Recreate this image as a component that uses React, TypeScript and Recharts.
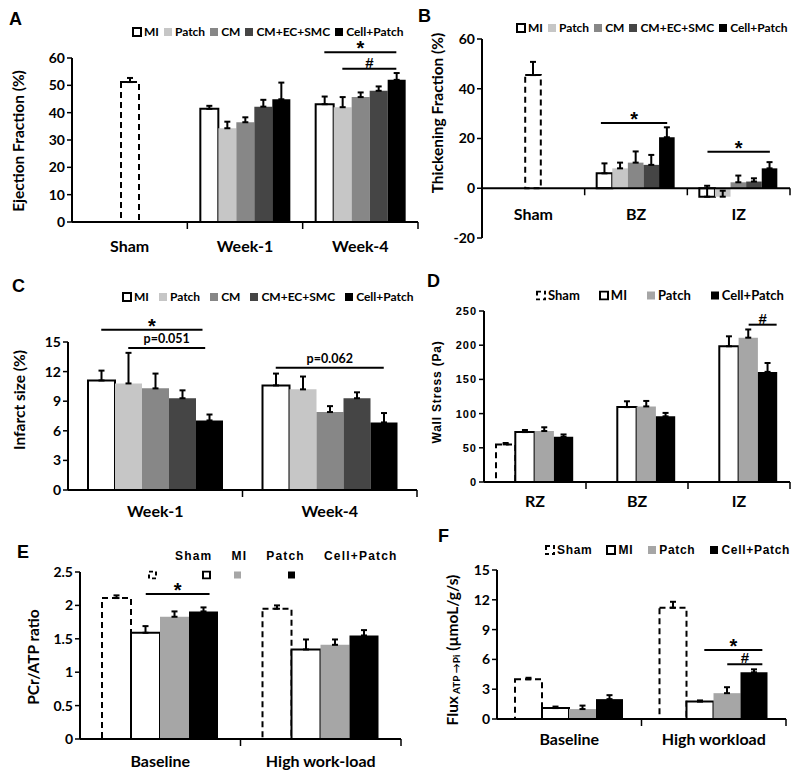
import React from 'react';
import { BarChart, Bar, XAxis, YAxis, ErrorBar, ReferenceLine } from 'recharts';

const SANS = "Lato, 'Open Sans', sans-serif";
const ARIAL = "'Liberation Sans', Arial, sans-serif";

// ---- A: ejection fraction (%)
const efCats = ['Sham', 'Week-1', 'Week-4'];
const efTicks = [0, 10, 20, 30, 40, 50, 60];
const efSham = [51.2, null, null];
const efShamErr = [1.5, null, null];
const efMI = [null, 41.4, 43.1];
const efMIErr = [null, 1.1, 2.8];
const efPatch = [null, 34.3, 42.0];
const efPatchErr = [null, 2.4, 3.7];
const efCM = [null, 36.5, 45.7];
const efCMErr = [null, 1.8, 1.7];
const efMix = [null, 42.2, 48.0];
const efMixErr = [null, 2.5, 1.6];
const efCP = [null, 44.9, 52.0];
const efCPErr = [null, 6.1, 2.5];
const efBrackets = [
  { cat: 2, from: 0, to: 4, value: 62.1, text: '*' },
  { cat: 2, from: 1, to: 4, value: 56.1, text: '#' },
];

// ---- B: thickening fraction (%)
const tfCats = ['Sham', 'BZ', 'IZ'];
const tfTicks = [-20, 0, 20, 40, 60];
const tfSham = [45.5, null, null];
const tfShamErr = [5.3, null, null];
const tfMI = [null, 6.0, -3.4];
const tfMIErr = [null, 4.0, 4.4];
const tfPatch = [null, 8.0, -3.4];
const tfPatchErr = [null, 2.3, 2.4];
const tfCM = [null, 10.3, 2.4];
const tfCMErr = [null, 4.5, 2.7];
const tfMix = [null, 9.4, 2.7];
const tfMixErr = [null, 4.0, 1.3];
const tfCP = [null, 20.5, 8.0];
const tfCPErr = [null, 4.0, 2.5];
const tfBrackets = [
  { cat: 1, from: -0.25, to: 4, value: 26.2, text: '*' },
  { cat: 2, from: 0, to: 4, value: 14.7, text: '*' },
];

// ---- C: infarct size (%)
const isCats = ['Week-1', 'Week-4'];
const isTicks = [0, 3, 6, 9, 12, 15];
const isMI = [11.1, 10.6];
const isMIErr = [1.0, 1.2];
const isPatch = [10.8, 10.2];
const isPatchErr = [3.1, 1.3];
const isCM = [10.3, 7.9];
const isCMErr = [1.5, 0.6];
const isMix = [9.3, 9.3];
const isMixErr = [0.8, 0.6];
const isCP = [7.05, 6.85];
const isCPErr = [0.6, 0.95];
const isBrackets = [
  { cat: 0, from: 0, to: 3.75, value: 16.25, text: '*' },
  { cat: 0, from: 1, to: 3.85, value: 14.4, text: 'p=0.051' },
  { cat: 1, from: 0, to: 4, value: 12.4, text: 'p=0.062' },
];

// ---- D: wall stress (Pa)
const wsCats = ['RZ', 'BZ', 'IZ'];
const wsTicks = [0, 50, 100, 150, 200, 250];
const wsSham = [55, null, null];
const wsShamErr = [2, null, null];
const wsMI = [73, 109.5, 198.5];
const wsMIErr = [3, 8.5, 14.5];
const wsPatch = [74.5, 110.5, 211];
const wsPatchErr = [5.5, 8, 12];
const wsCP = [66, 96, 161];
const wsCPErr = [3.5, 5, 13];
const wsBrackets = [{ cat: 2, from: 2, to: 3.45, value: 230, text: '#' }];

// ---- E: PCr/ATP ratio
const prCats = ['Baseline', 'High work-load'];
const prTicks = [0, 0.5, 1, 1.5, 2, 2.5];
const prSham = [2.11, 1.95];
const prShamErr = [0.04, 0.05];
const prMI = [1.59, 1.34];
const prMIErr = [0.1, 0.15];
const prPatch = [1.83, 1.41];
const prPatchErr = [0.08, 0.08];
const prCP = [1.91, 1.55];
const prCPErr = [0.06, 0.08];
const prBrackets = [{ cat: 0, from: 1, to: 3.2, value: 2.17, text: '*' }];

// ---- F: flux ATP -> Pi
const fxCats = ['Baseline', 'High workload'];
const fxTicks = [0, 3, 6, 9, 12, 15];
const fxSham = [4.0, 11.2];
const fxShamErr = [0.15, 0.6];
const fxMI = [1.1, 1.75];
const fxMIErr = [0.15, 0.12];
const fxPatch = [1.0, 2.6];
const fxPatchErr = [0.35, 0.6];
const fxCP = [2.0, 4.7];
const fxCPErr = [0.4, 0.3];
const fxBrackets = [
  { cat: 1, from: 1.15, to: 3.3, value: 6.95, text: '*' },
  { cat: 1, from: 2, to: 3.3, value: 5.5, text: '#' },
];

const PATCH_LIGHT = '#c6c6c6';
const PATCH_MID = '#a6a6a6';
const CM_GRAY = '#878787';
const MIX_GRAY = '#454545';

const outlined = (key: string, name: string, values: any[], errors: any[]) => ({ key, name, values, errors, fill: '#ffffff', stroke: '#000000' });
const solid = (key: string, name: string, values: any[], errors: any[], fill: string, stack?: string) => ({ key, name, values, errors, fill, stack });
const shamSeries = (values: any[], errors: any[], stack?: string, inLegend = true) => ({
  key: 'sham', name: 'Sham', values, errors, fill: '#ffffff', stroke: '#000000', dashed: true, stack, inLegend,
});

// in A and B the sham bar shares the middle slot with CM
const efSeries = [
  outlined('mi', 'MI', efMI, efMIErr),
  solid('patch', 'Patch', efPatch, efPatchErr, PATCH_LIGHT),
  solid('cm', 'CM', efCM, efCMErr, CM_GRAY, 'mid'),
  shamSeries(efSham, efShamErr, 'mid', false),
  solid('mix', 'CM+EC+SMC', efMix, efMixErr, MIX_GRAY),
  solid('cp', 'Cell+Patch', efCP, efCPErr, '#000000'),
];
const tfSeries = [
  outlined('mi', 'MI', tfMI, tfMIErr),
  solid('patch', 'Patch', tfPatch, tfPatchErr, PATCH_LIGHT),
  solid('cm', 'CM', tfCM, tfCMErr, CM_GRAY, 'mid'),
  shamSeries(tfSham, tfShamErr, 'mid', false),
  solid('mix', 'CM+EC+SMC', tfMix, tfMixErr, MIX_GRAY),
  solid('cp', 'Cell+Patch', tfCP, tfCPErr, '#000000'),
];
const isSeries = [
  outlined('mi', 'MI', isMI, isMIErr),
  solid('patch', 'Patch', isPatch, isPatchErr, PATCH_LIGHT),
  solid('cm', 'CM', isCM, isCMErr, CM_GRAY),
  solid('mix', 'CM+EC+SMC', isMix, isMixErr, MIX_GRAY),
  solid('cp', 'Cell+Patch', isCP, isCPErr, '#000000'),
];
const wsSeries = [
  shamSeries(wsSham, wsShamErr),
  outlined('mi', 'MI', wsMI, wsMIErr),
  solid('patch', 'Patch', wsPatch, wsPatchErr, PATCH_MID),
  solid('cp', 'Cell+Patch', wsCP, wsCPErr, '#000000'),
];
const prSeries = [
  shamSeries(prSham, prShamErr),
  outlined('mi', 'MI', prMI, prMIErr),
  solid('patch', 'Patch', prPatch, prPatchErr, PATCH_MID),
  solid('cp', 'Cell+Patch', prCP, prCPErr, '#000000'),
];
const fxSeries = [
  shamSeries(fxSham, fxShamErr),
  outlined('mi', 'MI', fxMI, fxMIErr),
  solid('patch', 'Patch', fxPatch, fxPatchErr, PATCH_MID),
  solid('cp', 'Cell+Patch', fxCP, fxCPErr, '#000000'),
];

const TICK = { fontFamily: SANS, fontWeight: 700, fontSize: 14, fill: '#000' };
const TICK_NARROW = { fontFamily: ARIAL, fontWeight: 700, fontSize: 11, fill: '#000', letterSpacing: 1 };
const CAT = { fontFamily: SANS, fontWeight: 700, fontSize: 16, fill: '#000' };
const TITLE = { fontFamily: SANS, fontWeight: 700, fontSize: 15.5, fill: '#000' };
const TITLE_NARROW = { fontFamily: ARIAL, fontWeight: 700, fontSize: 12, fill: '#000', letterSpacing: 0.8 };
const LEGEND = { fontFamily: SANS, fontWeight: 700, fontSize: 12, color: '#000' };
const LEGEND_SPACED = { fontFamily: ARIAL, fontWeight: 700, fontSize: 12, color: '#000', letterSpacing: 1 };

function CatTick(props: any) {
  const { x, y, payload, index, visibleTicksCount, band, labelShift, markShift, font } = props;
  const mark = (mx: number) => (
    <line x1={mx} x2={mx} y1={y + markShift} y2={y + markShift + 7} stroke="#000" strokeWidth={1.5} />
  );
  return (
    <g>
      {index > 0 && mark(x - band / 2)}
      {index === visibleTicksCount - 1 && mark(x + band / 2)}
      <text x={x} y={y + labelShift} textAnchor="middle" dominantBaseline="central" style={font}>
        {payload.value}
      </text>
    </g>
  );
}

function AxisTitle({ lx, ly, caption, font }: any) {
  return (
    <text x={lx} y={ly} transform={`rotate(-90 ${lx} ${ly})`} textAnchor="middle" dominantBaseline="central" style={font}>
      {caption}
    </text>
  );
}

// significance line: the reference line sits on the category centre, the ends are shifted to the bars
function Bracket({ x1, y1, left, right, text }: any) {
  if (x1 == null || y1 == null) return null;
  const symbol = text === '*' || text === '#';
  const lift = text === '*' ? 3 : text === '#' ? -1 : -5;
  const font = symbol
    ? { fontFamily: ARIAL, fontWeight: 700, fontSize: text === '*' ? 20 : 15, fill: '#000' }
    : { fontFamily: SANS, fontWeight: 700, fontSize: 12.5, fill: '#000' };
  return (
    <g>
      <line x1={x1 + left} x2={x1 + right} y1={y1} y2={y1} stroke="#000" strokeWidth={2} />
      <text x={x1 + (left + right) / 2} y={y1 + lift} textAnchor="middle" style={font}>
        {text}
      </text>
    </g>
  );
}

function Panel(p: any) {
  const { box, plot, cats, series, slots, barSize, domain, ticks } = p;
  const band = (plot.x1 - plot.x0) / cats.length;
  const lead = (band - slots * barSize) / 2;
  const slotShift = (slot: number) => -band / 2 + lead + (slot + 0.5) * barSize;
  const zeroDrop = ((0 - domain[0]) / (domain[1] - domain[0])) * (plot.yBottom - plot.yTop);
  const rows = cats.map((cat: string, i: number) => {
    const row: any = { cat };
    series.forEach((s: any) => {
      row[s.key] = s.values[i];
      row[s.key + 'Err'] = s.errors[i] == null ? null : [0, s.errors[i]];
    });
    return row;
  });
  const margin = { top: plot.yTop - box.top, right: box.left + box.width - plot.x1, left: 0, bottom: 0 };

  return (
    <div style={{ position: 'absolute', left: box.left, top: box.top, width: box.width, height: box.height }}>
      <BarChart width={box.width} height={box.height} data={rows} margin={margin} barGap={0} barSize={barSize}>
        <XAxis
          dataKey="cat"
          height={box.top + box.height - plot.yBottom}
          axisLine={p.zeroAxis ? false : { stroke: '#000', strokeWidth: 2 }}
          tickLine={false}
          tickSize={0}
          tickMargin={0}
          interval={0}
          tick={(t: any) => (
            <CatTick {...t} band={band} labelShift={p.catY - plot.yBottom} markShift={-zeroDrop} font={CAT} />
          )}
        />
        <YAxis
          width={plot.x0 - box.left}
          domain={domain}
          ticks={ticks}
          interval={0}
          allowDataOverflow
          axisLine={{ stroke: '#000', strokeWidth: 2 }}
          tickLine={{ stroke: '#000', strokeWidth: 1.5 }}
          tickSize={5}
          tick={p.tickFont}
          label={<AxisTitle lx={p.titleAt[0] - box.left} ly={p.titleAt[1] - box.top} caption={p.title} font={p.titleFont} />}
        />
        {series.map((s: any) => (
          <Bar
            key={s.key}
            dataKey={s.key}
            name={s.name}
            stackId={s.stack ?? `slot-${s.key}`}
            fill={s.fill}
            stroke={s.stroke ?? 'none'}
            strokeWidth={s.stroke ? 2 : 0}
            strokeDasharray={s.dashed ? '6 4' : undefined}
            isAnimationActive={false}
          >
            <ErrorBar dataKey={s.key + 'Err'} width={3} stroke="#000" strokeWidth={2} direction="y" isAnimationActive={false} />
          </Bar>
        ))}
        {p.zeroAxis && <ReferenceLine y={0} stroke="#000" strokeWidth={2} ifOverflow="visible" />}
        {p.brackets.map((b: any, i: number) => (
          <ReferenceLine
            key={i}
            ifOverflow="visible"
            segment={[{ x: cats[b.cat], y: b.value }, { x: cats[b.cat], y: b.value }]}
            shape={(sp: any) => <Bracket {...sp} left={slotShift(b.from)} right={slotShift(b.to)} text={b.text} />}
          />
        ))}
      </BarChart>
    </div>
  );
}

function Swatch({ s, size = 9 }: any) {
  if (s.dashed) {
    return (
      <svg width={size + 1} height={size + 1} style={{ display: 'block' }}>
        <rect x={1} y={1} width={size - 1} height={size - 1} fill="none" stroke="#000" strokeWidth={2} strokeDasharray="4 3" />
      </svg>
    );
  }
  return (
    <svg width={size + 1} height={size + 1} style={{ display: 'block' }}>
      <rect x={1} y={1} width={size - 1} height={size - 1} fill={s.fill} stroke={s.stroke ?? s.fill} strokeWidth={s.stroke ? 2 : 0} />
    </svg>
  );
}

function LegendRow({ series, left, top, gap, font }: any) {
  const items = series.filter((s: any) => s.inLegend !== false);
  return (
    <div style={{ position: 'absolute', left, top, transform: 'translateY(-50%)', display: 'flex', alignItems: 'center', gap, whiteSpace: 'nowrap', lineHeight: 1, ...font }}>
      {items.map((s: any) => (
        <span key={s.key} style={{ display: 'flex', alignItems: 'center', gap: 2 }}>
          <Swatch s={s} />
          <span>{s.name}</span>
        </span>
      ))}
    </div>
  );
}

// E has its names and its symbols on two separate, misaligned rows
function SplitLegend({ series }: any) {
  const symbolOffsets = [0, 54, 85, 139];
  return (
    <>
      <div style={{ position: 'absolute', left: 175, top: 556, transform: 'translateY(-50%)', display: 'flex', gap: 19, whiteSpace: 'nowrap', lineHeight: 1, ...LEGEND_SPACED, letterSpacing: 1.2 }}>
        {series.map((s: any) => <span key={s.key}>{s.name}</span>)}
      </div>
      {series.map((s: any, i: number) => (
        <div key={s.key} style={{ position: 'absolute', left: 148 + symbolOffsets[i], top: 575, transform: 'translateY(-50%)' }}>
          <Swatch s={s} size={8} />
        </div>
      ))}
    </>
  );
}

function Letter({ ch, x, base }: any) {
  return (
    <div style={{ position: 'absolute', left: x, top: base - 15, fontFamily: ARIAL, fontWeight: 700, fontSize: 18, lineHeight: '18px' }}>
      {ch}
    </div>
  );
}

export default function App() {
  return (
    <div style={{ position: 'absolute', left: 0, top: 0, width: 800, height: 775, background: '#fff', overflow: 'hidden' }}>
      <Panel
        box={{ left: 0, top: 0, width: 420, height: 262 }}
        plot={{ x0: 72, x1: 418, yTop: 58, yBottom: 222 }}
        cats={efCats} series={efSeries} slots={5} barSize={18}
        domain={[0, 60]} ticks={efTicks} tickFont={TICK} catY={245}
        title="Ejection Fraction (%)" titleAt={[18, 141]} titleFont={TITLE}
        brackets={efBrackets}
      />
      <Panel
        box={{ left: 410, top: 0, width: 390, height: 262 }}
        plot={{ x0: 482, x1: 790, yTop: 39, yBottom: 238 }}
        cats={tfCats} series={tfSeries} slots={5} barSize={15.6}
        domain={[-20, 60]} ticks={tfTicks} tickFont={TICK} catY={213} zeroAxis
        title="Thickening Fraction (%)" titleAt={[437, 113]} titleFont={TITLE}
        brackets={tfBrackets}
      />
      <Panel
        box={{ left: 0, top: 262, width: 420, height: 258 }}
        plot={{ x0: 68, x1: 417, yTop: 342, yBottom: 490 }}
        cats={isCats} series={isSeries} slots={5} barSize={27}
        domain={[0, 15]} ticks={isTicks} tickFont={TICK} catY={510}
        title="Infarct size (%)" titleAt={[19, 400]} titleFont={TITLE}
        brackets={isBrackets}
      />
      <Panel
        box={{ left: 410, top: 262, width: 390, height: 258 }}
        plot={{ x0: 484, x1: 790, yTop: 311, yBottom: 482 }}
        cats={wsCats} series={wsSeries} slots={4} barSize={19.3}
        domain={[0, 250]} ticks={wsTicks} tickFont={TICK_NARROW} catY={500}
        title="Wall Stress (Pa)" titleAt={[437, 392]} titleFont={TITLE_NARROW}
        brackets={wsBrackets}
      />
      <Panel
        box={{ left: 0, top: 520, width: 420, height: 255 }}
        plot={{ x0: 80, x1: 401, yTop: 572, yBottom: 739 }}
        cats={prCats} series={prSeries} slots={4} barSize={29}
        domain={[0, 2.5]} ticks={prTicks} tickFont={TICK} catY={760}
        title="PCr/ATP ratio" titleAt={[33, 657]} titleFont={TITLE}
        brackets={prBrackets}
      />
      <Panel
        box={{ left: 410, top: 520, width: 390, height: 255 }}
        plot={{ x0: 497, x1: 786, yTop: 570, yBottom: 719 }}
        cats={fxCats} series={fxSeries} slots={4} barSize={27}
        domain={[0, 15]} ticks={fxTicks} tickFont={TICK} catY={738}
        title={
          <>
            Flux<tspan fontSize={10} dy={4}> ATP →Pi</tspan>
            <tspan dy={-4}> (µmoL/g/s)</tspan>
          </>
        }
        titleAt={[452, 650]} titleFont={TITLE}
        brackets={fxBrackets}
      />

      <Letter ch="A" x={9} base={25} />
      <Letter ch="B" x={418} base={22} />
      <Letter ch="C" x={12} base={292} />
      <Letter ch="D" x={427} base={287} />
      <Letter ch="E" x={17} base={558} />
      <Letter ch="F" x={438} base={542} />

      <LegendRow series={efSeries} left={132} top={32} gap={4} font={LEGEND} />
      <LegendRow series={tfSeries} left={516} top={28} gap={4} font={LEGEND} />
      <LegendRow series={isSeries} left={122} top={297} gap={9} font={LEGEND} />
      <LegendRow series={wsSeries} left={536} top={295} gap={19} font={{ ...LEGEND, fontSize: 13 }} />
      <SplitLegend series={prSeries} />
      <LegendRow series={fxSeries} left={545} top={550} gap={14} font={{ ...LEGEND_SPACED, letterSpacing: 0.7 }} />
    </div>
  );
}
